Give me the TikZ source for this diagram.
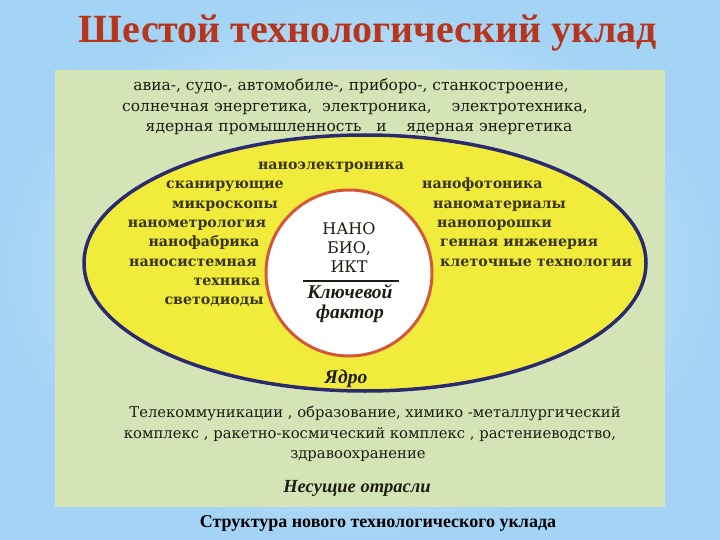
\documentclass[tikz,border=0pt]{standalone}
\usepackage{fontspec}
\setmainfont{DejaVu Serif}
\newfontfamily\timesfont{Liberation Serif}
\definecolor{skyblue}{HTML}{A3D3F5}
\definecolor{paleblue}{HTML}{F0F8FE}
\definecolor{sagegreen}{HTML}{D4E4B6}
\definecolor{lemon}{HTML}{F1EC3C}
\definecolor{navy}{HTML}{2C2A6E}
\definecolor{brick}{HTML}{D2573B}
\definecolor{titlered}{HTML}{B5361C}
\definecolor{ink}{HTML}{1E1C12}
\definecolor{olive}{HTML}{3A3410}

\begin{document}
\begin{tikzpicture}[x=1pt,y=1pt]
		\tikzstyle{every node}+=[inner sep=0pt]
		\tikzstyle{sectortext}=[anchor=base, text=ink, font=\fontsize{15.5}{15.5}\selectfont]
		\tikzstyle{coretext}=[text=olive, font=\fontsize{14.2}{14.2}\selectfont\bfseries]
		\tikzstyle{labeltext}=[anchor=base, text=ink, font=\fontsize{18.5}{18.5}\selectfont\timesfont\bfseries\itshape]
		% background and panel
		\shade [inner color=paleblue, outer color=skyblue] (0,0) rectangle (720,-540);
		\fill [sagegreen] (55,-70) rectangle (665,-507);
		\draw [navy, line width=3.5, fill=lemon] (365,-263) ellipse [x radius=281, y radius=128];
		\node (key) [circle, draw=brick, line width=3, fill=white, minimum size=166] at (349,-273) {};
		% title
		\node (title) [anchor=base, text=titlered, font=\fontsize{40}{40}\selectfont\timesfont\bfseries] at (368,-43) {Шестой технологический уклад};
		% upper sectors
		\node (sect1) [sectortext] at (351,-91) {авиа-, судо-, автомобиле-, приборо-, станкостроение,};
		\node (sect2) [sectortext] at (355,-112) {солнечная энергетика,\ \ электроника,\ \ \ \ электротехника,};
		\node (sect3) [sectortext] at (359,-132) {ядерная промышленность\ \ \ и\ \ \ \ ядерная энергетика};
		% core, left column
		\node (nanoel) [coretext, anchor=base] at (331,-170) {наноэлектроника};
		\node (scan) [coretext, anchor=base] at (225,-189) {сканирующие};
		\node (micro) [coretext, anchor=base] at (225,-208) {микроскопы};
		\node (metro) [coretext, anchor=base] at (197,-228) {нанометрология};
		\node (fab) [coretext, anchor=base] at (204,-247) {нанофабрика};
		\node (syst) [coretext, anchor=base] at (193,-266) {наносистемная};
		\node (tech) [coretext, anchor=base] at (227,-285) {техника};
		\node (led) [coretext, anchor=base] at (214,-304) {светодиоды};
		% core, right column
		\node (photon) [coretext, anchor=base west] at (422,-189) {нанофотоника};
		\node (mater) [coretext, anchor=base west] at (433,-208) {наноматериалы};
		\node (powder) [coretext, anchor=base west] at (437,-227) {нанопорошки};
		\node (gene) [coretext, anchor=base west] at (440,-246) {генная инженерия};
		\node (cell) [coretext, anchor=base west] at (440,-266) {клеточные технологии};
		% key factor
		\node (nano) [anchor=base, text=ink, font=\fontsize{16}{16}\selectfont] at (349,-234) {НАНО};
		\node (bio) [anchor=base, text=ink, font=\fontsize{16}{16}\selectfont] at (349,-253) {БИО,};
		\node (ict) [anchor=base, text=ink, font=\fontsize{16}{16}\selectfont] at (349,-272) {ИКТ};
		\draw [ink, line width=1.3] (303,-281) -- (399,-281);
		\node (keyf) [labeltext, font=\fontsize{19.5}{19.5}\selectfont\timesfont\bfseries\itshape] at (350,-298) {Ключевой};
		\node (factor) [labeltext, font=\fontsize{19.5}{19.5}\selectfont\timesfont\bfseries\itshape] at (350,-318) {фактор};
		\node (nucleus) [labeltext, font=\fontsize{19.5}{19.5}\selectfont\timesfont\bfseries\itshape] at (346,-383) {Ядро};
		% carrier branches
		\node (carr1) [sectortext, font=\fontsize{14.8}{14.8}\selectfont] at (375,-417) {Телекоммуникации , образование, химико -металлургический};
		\node (carr2) [sectortext, font=\fontsize{14.8}{14.8}\selectfont] at (370,-438) {комплекс , ракетно-космический комплекс , растениеводство,};
		\node (carr3) [sectortext, font=\fontsize{14.8}{14.8}\selectfont] at (358,-458) {здравоохранение};
		\node (carrier) [labeltext] at (357,-492) {Несущие отрасли};
		% caption
		\node (caption) [anchor=base, text=black, font=\fontsize{18}{18}\selectfont\timesfont\bfseries] at (378,-527) {Структура нового технологического уклада};
	\end{tikzpicture}
\end{document}
